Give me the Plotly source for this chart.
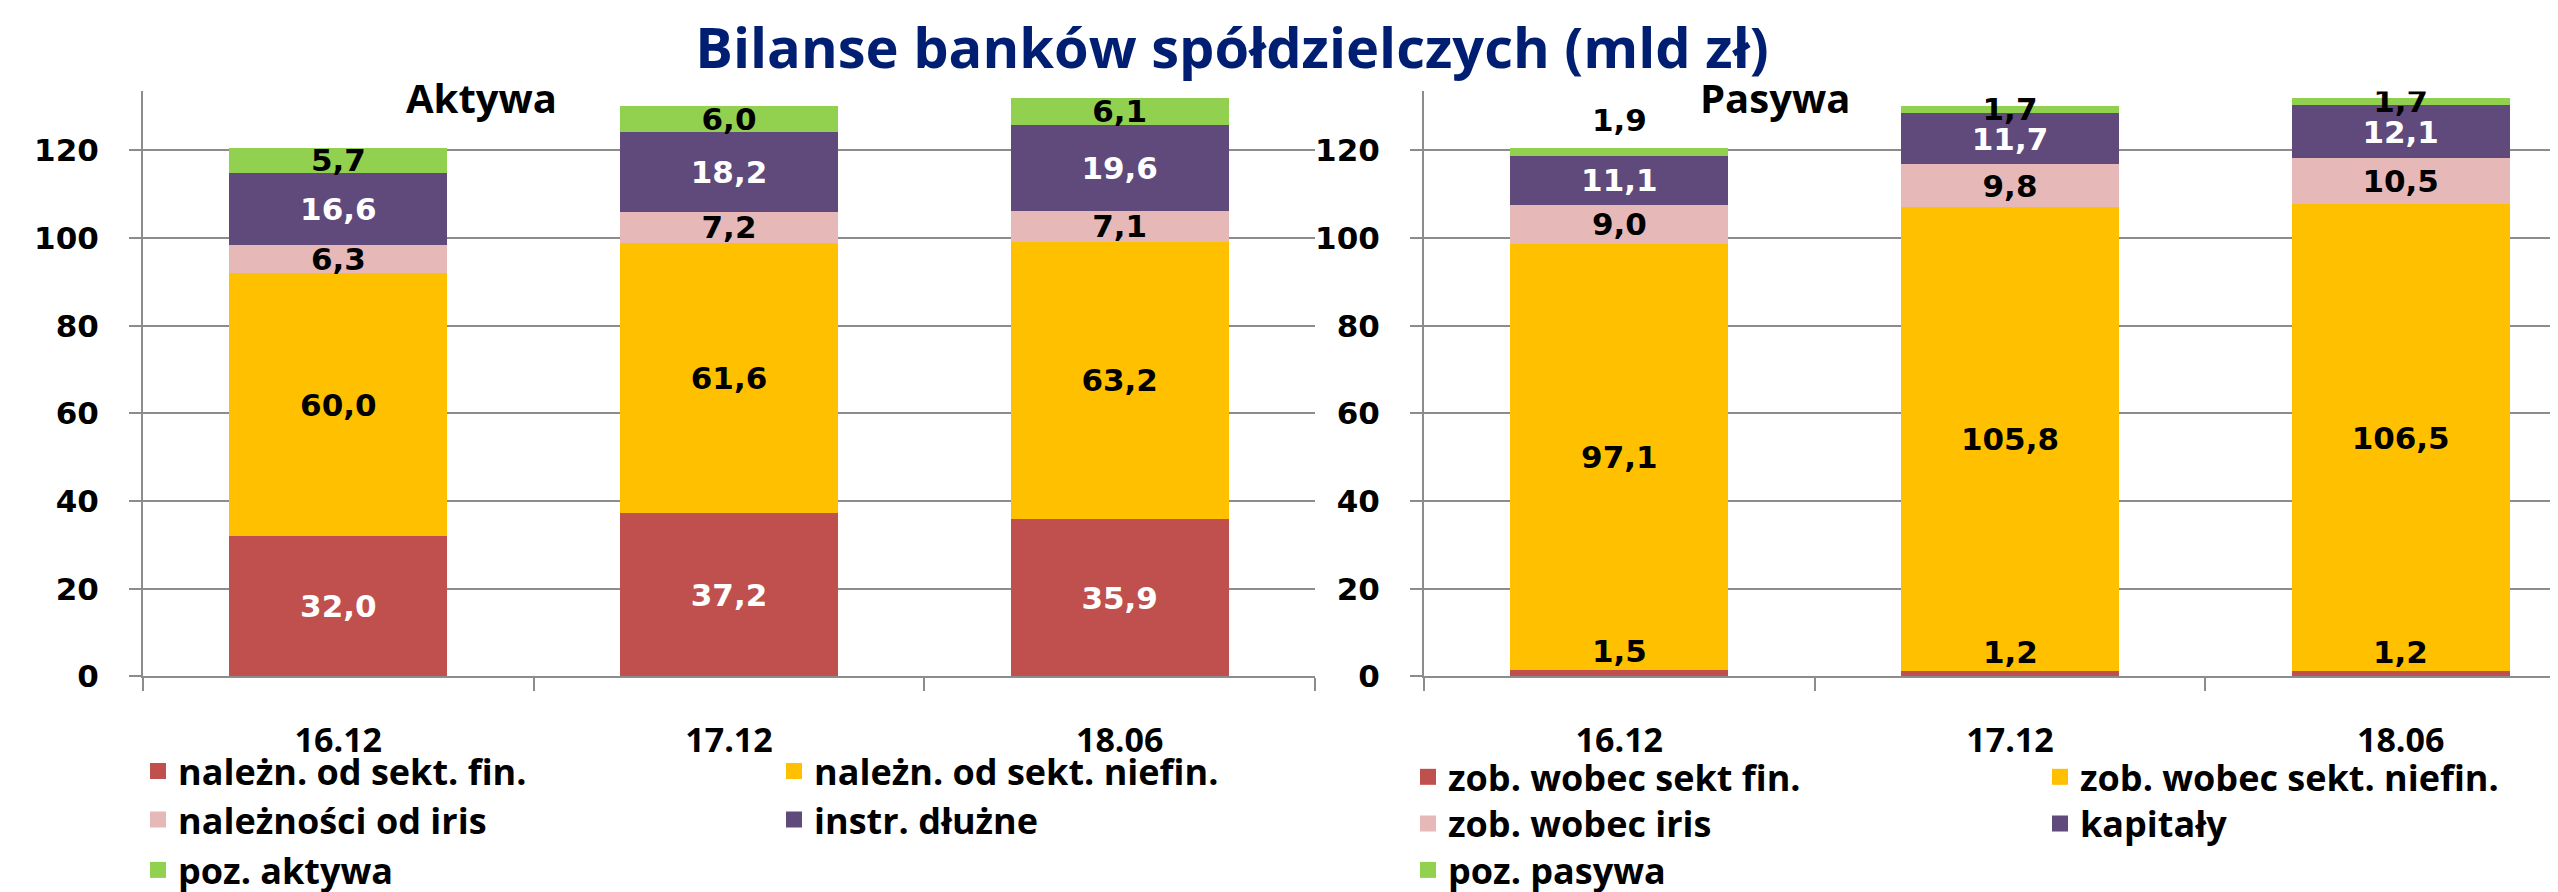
import plotly.graph_objects as go

# ---------------- data ----------------
categories = ["16.12", "17.12", "18.06"]

assets_names = ["należn. od sekt. fin.", "należn. od sekt. niefin.",
                "należności od iris", "instr. dłużne", "poz. aktywa"]
assets_fin = [32.0, 37.2, 35.9]
assets_niefin = [60.0, 61.6, 63.2]
assets_iris = [6.3, 7.2, 7.1]
assets_debt = [16.6, 18.2, 19.6]
assets_other = [5.7, 6.0, 6.1]

liab_names = ["zob. wobec sekt fin.", "zob. wobec sekt. niefin.",
              "zob. wobec iris", "kapitały", "poz. pasywa"]
liab_fin = [1.5, 1.2, 1.2]
liab_niefin = [97.1, 105.8, 106.5]
liab_iris = [9.0, 9.8, 10.5]
liab_capital = [11.1, 11.7, 12.1]
liab_other = [1.9, 1.7, 1.7]

y_ticks = [0, 20, 40, 60, 80, 100, 120]

title_text = "Bilanse banków spółdzielczych (mld zł)"
left_title = "Aktywa"
right_title = "Pasywa"

# ---------------- style ----------------
W, H = 2558, 892
colors = ["#C0504D", "#FFC000", "#E6B9B8", "#604A7B", "#92D050"]
label_colors = ["white", "black", "black", "white", "black"]
grid = "#8C8C8C"
LABEL_FONT = "DejaVu Sans"
TEXT_FONT = "Open Sans"


def fx(px):
    return px / W


def fy(py):
    return 1 - py / H


def fmt(v):
    return f"{v:.1f}".replace(".", ",")


plot_top, plot_bottom = 86, 688.5
a_left, a_right = 135, 1307
p_left = 1416
cat_w = (a_right - a_left) / len(categories)
p_range_end = -0.5 + (W - p_left) / cat_w
y_max = 133.4

fig = go.Figure()

assets = [assets_fin, assets_niefin, assets_iris, assets_debt, assets_other]
liabs = [liab_fin, liab_niefin, liab_iris, liab_capital, liab_other]

for i, (name, vals) in enumerate(zip(assets_names, assets)):
    fig.add_trace(go.Bar(
        x=categories, y=vals, name=name, showlegend=False,
        marker=dict(color=colors[i], line=dict(width=0)),
        text=[fmt(v) for v in vals], texttemplate="%{text}",
        textposition="inside", insidetextanchor="middle", constraintext="none",
        textfont=dict(family=LABEL_FONT, size=31, color=label_colors[i], weight="bold"),
        xaxis="x", yaxis="y", hoverinfo="skip",
    ))

liab_textpos = [
    ["none"] * 3,
    ["inside"] * 3,
    ["inside"] * 3,
    ["inside"] * 3,
    ["none", "inside", "inside"],
]
for i, (name, vals) in enumerate(zip(liab_names, liabs)):
    fig.add_trace(go.Bar(
        x=categories, y=vals, name=name, showlegend=False,
        marker=dict(color=colors[i], line=dict(width=0)),
        text=[fmt(v) for v in vals], texttemplate="%{text}",
        textposition=liab_textpos[i], insidetextanchor="middle", constraintext="none",
        textfont=dict(family=LABEL_FONT, size=31, color=label_colors[i], weight="bold"),
        xaxis="x2", yaxis="y2", hoverinfo="skip",
    ))

# legend entries (square swatches, one legend per entry for the 2-column layout)
for i, name in enumerate(assets_names):
    fig.add_trace(go.Scatter(
        x=[None], y=[None], mode="markers", name=name,
        marker=dict(symbol="square", size=16, color=colors[i]),
        xaxis="x", yaxis="y", legend="legend" if i == 0 else f"legend{i + 1}",
        hoverinfo="skip"))
for i, name in enumerate(liab_names):
    fig.add_trace(go.Scatter(
        x=[None], y=[None], mode="markers", name=name,
        marker=dict(symbol="square", size=16, color=colors[i]),
        xaxis="x2", yaxis="y2", legend=f"legend{i + 6}",
        hoverinfo="skip"))

annotations = []
# small red segment labels of Pasywa, drawn just above the segment
for idx, v in enumerate(liab_fin):
    annotations.append(dict(
        xref="x2", yref="y2", x=idx, y=v, yanchor="middle", yshift=19,
        text=fmt(v), showarrow=False,
        font=dict(family=LABEL_FONT, size=31, color="black", weight="bold")))
# green label of first Pasywa bar sits above the bar
liab_totals = [sum(t) for t in zip(*liabs)]
annotations.append(dict(
    xref="x2", yref="y2", x=0, y=liab_totals[0], yanchor="middle", yshift=28,
    text=fmt(liab_other[0]), showarrow=False,
    font=dict(family=LABEL_FONT, size=31, color="black", weight="bold")))

for txt, cx in [(left_title, 473), (right_title, 1767)]:
    annotations.append(dict(
        xref="paper", yref="paper", x=fx(cx), y=fy(92), xanchor="center", yanchor="middle",
        text=txt, showarrow=False,
        font=dict(family=TEXT_FONT, size=40, color="black", weight="bold")))

legend_font = dict(family=TEXT_FONT, size=36, color="black", weight="bold")
a_cols = [130, 130 + 636]
a_rows = [786, 836, 888]
p_cols = [1400, 2032]
p_rows = [792, 840, 888]
layout_legends = {}
for i in range(5):
    r, c = divmod(i, 2)
    key = "legend" if i == 0 else f"legend{i + 1}"
    layout_legends[key] = dict(
        x=fx(a_cols[c]), y=fy(a_rows[r]), xanchor="left", yanchor="middle",
        orientation="h", font=legend_font, bgcolor="rgba(0,0,0,0)", borderwidth=0,
        itemsizing="trace")
    layout_legends[f"legend{i + 6}"] = dict(
        x=fx(p_cols[c]), y=fy(p_rows[r]), xanchor="left", yanchor="middle",
        orientation="h", font=legend_font, bgcolor="rgba(0,0,0,0)", borderwidth=0,
        itemsizing="trace")

xaxis_common = dict(
    type="category", showline=True, linecolor=grid, linewidth=2,
    ticks="outside", tickson="boundaries", ticklen=13, tickcolor=grid, tickwidth=2,
    tickfont=dict(family=TEXT_FONT, size=34, color="black", weight="bold"),
    ticklabelstandoff=33, showgrid=False, zeroline=False, fixedrange=True,
)
yaxis_common = dict(
    range=[0, y_max], tickvals=y_ticks, showline=True, linecolor=grid, linewidth=2,
    showgrid=True, gridcolor=grid, gridwidth=2, zeroline=False,
    ticks="outside", ticklen=12, tickcolor=grid, tickwidth=2,
    tickfont=dict(family=LABEL_FONT, size=31, color="black", weight="bold"),
    ticklabelstandoff=24, fixedrange=True,
    domain=[fy(plot_bottom), fy(plot_top)],
)

fig.update_layout(
    width=W, height=H, autosize=False,
    margin=dict(l=0, r=0, t=0, b=0),
    paper_bgcolor="white", plot_bgcolor="white",
    barmode="stack", bargap=1 - 218 / cat_w,
    title=dict(text=title_text, x=fx(1224), y=fy(42), xanchor="center", yanchor="middle",
               xref="paper", yref="paper",
               font=dict(family=TEXT_FONT, size=56, color="#001E72", weight="bold")),
    xaxis=dict(domain=[fx(a_left), fx(a_right)], anchor="y", range=[-0.5, 2.5], **xaxis_common),
    xaxis2=dict(domain=[fx(p_left), 1.0], anchor="y2", range=[-0.5, p_range_end], **xaxis_common),
    yaxis=dict(anchor="x", **yaxis_common),
    yaxis2=dict(anchor="x2", **yaxis_common),
    annotations=annotations,
    showlegend=True,
    **layout_legends,
)

fig.write_html("out.html", config={"displayModeBar": False})
